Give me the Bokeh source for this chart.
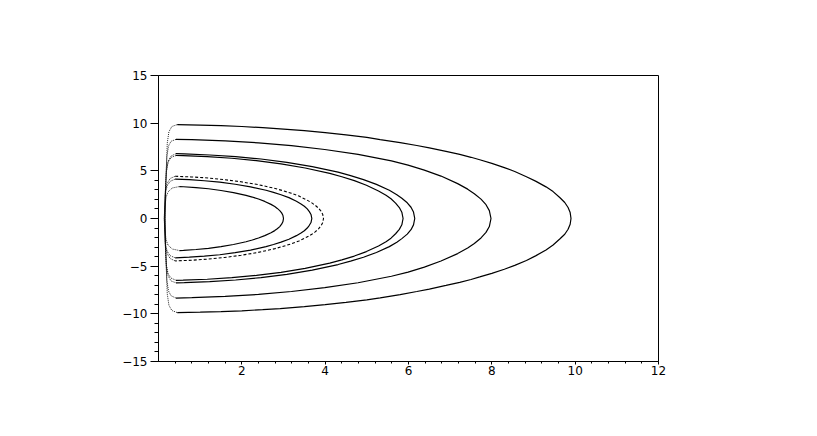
from bokeh.plotting import figure
from bokeh.embed import file_html
from bokeh.resources import INLINE
from bokeh.models import FixedTicker, Range1d

# ---- data (x, upper y, lower y) ----
a_x  = [0.45, 1.0, 1.5, 2.0, 2.5, 2.92, 3.5, 4.0, 4.5, 5.0, 5.32, 5.8, 6.2, 6.5, 6.9, 7.23,
        7.5, 7.71, 8.0, 8.3, 8.55, 8.83, 9.05, 9.3, 9.47, 9.63, 9.75, 9.83, 9.88, 9.9]
a_up = [9.85, 9.8, 9.74, 9.65, 9.53, 9.41, 9.21, 9.01, 8.77, 8.5, 8.28, 7.96, 7.66, 7.41,
        7.04, 6.72, 6.42, 6.16, 5.78, 5.34, 4.93, 4.38, 3.92, 3.32, 2.82, 2.2, 1.68, 1.15, 0.62, 0.0]
a_lo = [-9.87, -9.82, -9.76, -9.68, -9.56, -9.45, -9.25, -9.04, -8.8, -8.53, -8.32, -7.98,
        -7.66, -7.4, -7.02, -6.7, -6.4, -6.13, -5.75, -5.32, -4.92, -4.4, -3.92, -3.3, -2.78,
        -2.15, -1.65, -1.13, -0.6, 0.0]

b_x  = [0.42, 0.8, 1.6, 2.4, 3.19, 3.99, 4.79, 5.59, 5.99, 6.38, 6.78, 7.18, 7.42, 7.58,
        7.74, 7.86, 7.94, 7.98]
b_up = [8.3, 8.27, 8.14, 7.94, 7.64, 7.24, 6.72, 6.04, 5.6, 5.08, 4.45, 3.66, 3.08, 2.6,
        2.03, 1.45, 0.83, 0.0]
b_lo = [-8.35, -8.31, -8.17, -7.96, -7.66, -7.26, -6.74, -6.06, -5.62, -5.1, -4.46, -3.68,
        -3.1, -2.62, -2.04, -1.46, -0.84, 0.0]

c2_x  = [0.42, 0.62, 1.23, 1.85, 2.46, 3.08, 3.69, 4.31, 4.61, 4.92, 5.23, 5.54, 5.72, 5.84,
         5.97, 6.06, 6.12, 6.15]
c2_up = [6.8, 6.77, 6.66, 6.49, 6.24, 5.89, 5.44, 4.86, 4.49, 4.08, 3.58, 2.96, 2.5, 2.12,
         1.65, 1.18, 0.68, 0.0]
c2_lo = [-6.75, -6.72, -6.62, -6.45, -6.2, -5.86, -5.41, -4.83, -4.47, -4.06, -3.56, -2.95,
         -2.49, -2.11, -1.64, -1.17, -0.67, 0.0]

c1_x  = [0.42, 0.59, 1.17, 1.76, 2.35, 2.94, 3.52, 4.11, 4.4, 4.7, 4.99, 5.28, 5.46, 5.58,
         5.69, 5.78, 5.84, 5.87]
c1_up = [6.61, 6.59, 6.49, 6.32, 6.07, 5.73, 5.3, 4.73, 4.38, 3.97, 3.49, 2.89, 2.44, 2.07,
         1.61, 1.15, 0.66, 0.0]
c1_lo = [-6.48, -6.46, -6.37, -6.21, -5.97, -5.65, -5.23, -4.68, -4.34, -3.94, -3.47, -2.88,
         -2.43, -2.06, -1.6, -1.14, -0.66, 0.0]

d2_x  = [0.4, 0.79, 1.19, 1.58, 1.98, 2.38, 2.77, 2.97, 3.17, 3.37, 3.56, 3.68, 3.76, 3.84,
         3.9, 3.94, 3.96]
d2_up = [4.43, 4.36, 4.25, 4.08, 3.85, 3.56, 3.18, 2.94, 2.67, 2.35, 1.94, 1.64, 1.39, 1.08,
         0.77, 0.45, 0.0]
d2_lo = [-4.45, -4.38, -4.26, -4.09, -3.86, -3.57, -3.19, -2.95, -2.68, -2.36, -1.95, -1.65,
         -1.4, -1.09, -0.78, -0.45, 0.0]

d1_x  = [0.4, 0.74, 1.1, 1.47, 1.84, 2.21, 2.58, 2.76, 2.94, 3.13, 3.31, 3.42, 3.5, 3.57,
         3.62, 3.66, 3.68]
d1_up = [4.13, 4.07, 3.96, 3.81, 3.59, 3.32, 2.96, 2.74, 2.49, 2.19, 1.81, 1.53, 1.29, 1.01,
         0.72, 0.42, 0.0]
d1_lo = [-4.12, -4.06, -3.95, -3.8, -3.58, -3.31, -2.95, -2.73, -2.48, -2.18, -1.8, -1.52,
         -1.28, -1.0, -0.71, -0.42, 0.0]

e_x  = [0.5, 0.6, 0.9, 1.2, 1.5, 1.8, 2.1, 2.25, 2.4, 2.55, 2.7, 2.79, 2.85, 2.91, 2.955,
        2.985, 3.0]
e_up = [3.35, 3.33, 3.24, 3.12, 2.94, 2.72, 2.43, 2.25, 2.04, 1.79, 1.48, 1.25, 1.06, 0.83,
        0.59, 0.34, 0.0]
e_lo = [-3.36, -3.34, -3.25, -3.13, -2.95, -2.73, -2.44, -2.26, -2.05, -1.8, -1.5, -1.27,
        -1.08, -0.85, -0.6, -0.35, 0.0]

# left (fast, dotted) closing parts
a_lx = [0.45, 0.32, 0.25, 0.21, 0.18, 0.16, 0.18, 0.21, 0.25, 0.32, 0.45]
a_ly = [9.85, 9.65, 9.1, 7.9, 4.0, 0.0, -4.0, -7.9, -9.1, -9.65, -9.87]
b_lx = [0.42, 0.3, 0.24, 0.2, 0.17, 0.16, 0.17, 0.2, 0.24, 0.3, 0.42]
b_ly = [8.3, 8.1, 7.6, 6.5, 3.5, 0.0, -3.5, -6.5, -7.6, -8.1, -8.35]
c2_lx = [0.42, 0.3, 0.23, 0.19, 0.16, 0.15, 0.16, 0.19, 0.23, 0.3, 0.42]
c2_ly = [6.8, 6.55, 6.0, 5.0, 2.5, 0.0, -2.5, -5.0, -6.0, -6.55, -6.75]
c1_lx = [0.42, 0.3, 0.23, 0.19, 0.16, 0.15, 0.16, 0.19, 0.23, 0.3, 0.42]
c1_ly = [6.61, 6.4, 5.9, 4.9, 2.4, 0.0, -2.4, -4.9, -5.8, -6.25, -6.48]
d2_lx = [0.4, 0.28, 0.21, 0.17, 0.15, 0.14, 0.15, 0.17, 0.21, 0.28, 0.4]
d2_ly = [4.43, 4.2, 3.7, 3.0, 1.5, 0.0, -1.5, -3.0, -3.7, -4.2, -4.45]
d1_lx = [0.4, 0.28, 0.21, 0.17, 0.15, 0.14, 0.15, 0.17, 0.21, 0.28, 0.4]
d1_ly = [4.13, 3.9, 3.45, 2.8, 1.4, 0.0, -1.4, -2.8, -3.45, -3.9, -4.12]
e_lx = [0.5, 0.33, 0.23, 0.18, 0.15, 0.14, 0.15, 0.18, 0.23, 0.33, 0.5]
e_ly = [3.35, 3.2, 2.8, 2.2, 1.1, 0.0, -1.1, -2.2, -2.8, -3.2, -3.36]

x_ticks = [2, 4, 6, 8, 10, 12]
y_ticks = [-15, -10, -5, 0, 5, 10, 15]
y_minor = [-14, -13, -12, -11, -9, -8, -7, -6, -4, -3, -2, -1, 1, 2, 3, 4]
x_minor = [0.4, 0.8, 1.2, 1.6, 2.4, 2.8, 3.2, 3.6, 4.4, 4.8, 5.2, 5.6, 6.4, 6.8, 7.2, 7.6,
           8.4, 8.8, 9.2, 9.6, 10.4, 10.8, 11.2, 11.6]

curves = [
    (a_x, a_up, a_lo, a_lx, a_ly, None),
    (b_x, b_up, b_lo, b_lx, b_ly, None),
    (c2_x, c2_up, c2_lo, c2_lx, c2_ly, None),
    (c1_x, c1_up, c1_lo, c1_lx, c1_ly, None),
    (d2_x, d2_up, d2_lo, d2_lx, d2_ly, "3 2"),
    (d1_x, d1_up, d1_lo, d1_lx, d1_ly, None),
    (e_x, e_up, e_lo, e_lx, e_ly, None),
]

p = figure(frame_width=500, frame_height=286, output_backend="svg",
           toolbar_location=None, x_range=Range1d(0, 12), y_range=Range1d(-15, 15),
           min_border_left=158, min_border_top=75, min_border_right=140,
           min_border_bottom=50)
p.grid.visible = False
p.outline_line_color = "black"
p.outline_line_width = 1
p.background_fill_color = "white"
p.border_fill_color = "white"

for xs, up, lo, lx, ly, dash in curves:
    px = list(xs) + list(xs[::-1])[1:]
    py = list(up) + list(lo[::-1])[1:]
    if dash:
        p.line(px, py, line_color="black", line_width=1.1, line_dash=dash)
    else:
        p.line(px, py, line_color="black", line_width=1.2)
    p.line(lx, ly, line_color="black", line_width=1, line_dash="1 1", line_alpha=0.85)

p.xaxis.ticker = FixedTicker(ticks=x_ticks, minor_ticks=x_minor)
p.yaxis.ticker = FixedTicker(ticks=y_ticks, minor_ticks=y_minor)
p.yaxis.major_label_overrides = {-15: "\u221215", -10: "\u221210", -5: "\u22125"}
for ax in (p.xaxis, p.yaxis):
    ax.axis_line_color = "black"
    ax.major_tick_line_color = "black"
    ax.minor_tick_line_color = "black"
    ax.major_tick_in = 0
    ax.minor_tick_in = 0
    ax.major_label_text_font = "DejaVu Sans"
    ax.major_label_text_font_size = "12px"
    ax.major_label_text_color = "black"
p.xaxis.major_tick_out = 3
p.xaxis.minor_tick_out = 2
p.xaxis.major_label_standoff = 1
p.yaxis.major_tick_out = 8
p.yaxis.minor_tick_out = 4
p.yaxis.major_label_standoff = 3

open("out.html", "w").write(file_html(p, INLINE))
